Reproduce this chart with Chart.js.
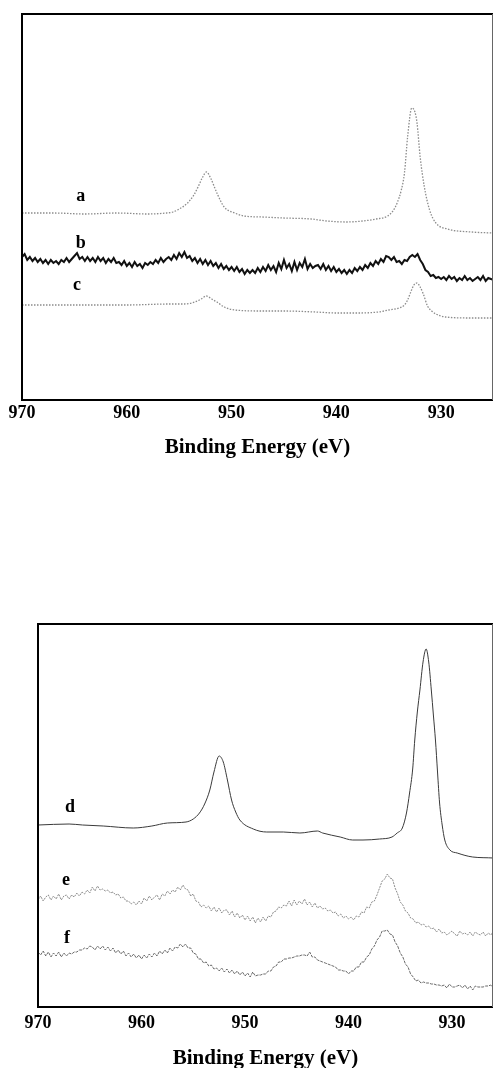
<!DOCTYPE html>
<html>
<head>
<meta charset="utf-8">
<script src="https://cdn.jsdelivr.net/npm/chart.js@4.4.1/dist/chart.umd.min.js"></script>
<style>
  html, body { margin: 0; padding: 0; background: #fff; overflow: hidden; }
  body { width: 494px; height: 1068px; position: relative; }
  canvas { position: absolute; left: 0; }
  #topChart { top: 0; }
  #bottomChart { top: 600px; }
</style>
</head>
<body>
<canvas id="topChart" width="494" height="480"></canvas>
<canvas id="bottomChart" width="494" height="480"></canvas>
<script>
// x axis ticks (eV)
const tickValues = [930, 940, 950, 960, 970];

// sampling grid for the noisy spectra (eV)
const energyGrid = [
  970,969.75,969.5,969.25,969,968.75,968.5,968.25,968,967.75,967.5,967.25,967,966.75,966.5,966.25,966,965.75,965.5,965.25,
  965,964.75,964.5,964.25,964,963.75,963.5,963.25,963,962.75,962.5,962.25,962,961.75,961.5,961.25,961,960.75,960.5,960.25,
  960,959.75,959.5,959.25,959,958.75,958.5,958.25,958,957.75,957.5,957.25,957,956.75,956.5,956.25,956,955.75,955.5,955.25,
  955,954.75,954.5,954.25,954,953.75,953.5,953.25,953,952.75,952.5,952.25,952,951.75,951.5,951.25,951,950.75,950.5,950.25,
  950,949.75,949.5,949.25,949,948.75,948.5,948.25,948,947.75,947.5,947.25,947,946.75,946.5,946.25,946,945.75,945.5,945.25,
  945,944.75,944.5,944.25,944,943.75,943.5,943.25,943,942.75,942.5,942.25,942,941.75,941.5,941.25,941,940.75,940.5,940.25,
  940,939.75,939.5,939.25,939,938.75,938.5,938.25,938,937.75,937.5,937.25,937,936.75,936.5,936.25,936,935.75,935.5,935.25,
  935,934.75,934.5,934.25,934,933.75,933.5,933.25,933,932.75,932.5,932.25,932,931.75,931.5,931.25,931,930.75,930.5,930.25,
  930,929.75,929.5,929.25,929,928.75,928.5,928.25,928,927.75,927.5,927.25,927,926.75,926.5,926.25,926,925.75,925.5,925.25,
  925
];

// --- top panel ---
const aEnergy = [970,967,964,961,958,956.2,955.6,955,954.2,953.6,953.2,952.8,952.4,952,951.4,950.7,949.7,948.8,947.1,945,
  942.4,940.9,939,937.5,936.2,935.1,934.6,934.2,933.8,933.5,933.2,932.8,932.5,932.3,932,931.6,931.1,930.5,929.4,927.1,925];
const aCounts = [187,187,186,187,186,187,188,191,197,205,213,222,228,222,207,193,187,184,183,182,
  181,179,178,179,181,184,189,197,210,227,263,292,288,277,243,213,190,177,171,168,167];

const bCounts = [
  143,146,140,143,139,142,138,141,137,140,136,140,137,
  139,136,140,138,142,138,141,144,147,141,143,139,
  143,139,142,138,143,139,142,137,141,138,142,137,
  138,135,139,134,137,133,138,134,136,132,137,135,
  138,136,140,137,142,138,141,143,
  140,145,141,147,143,148,142,144,
  139,142,137,141,136,140,135,139,
  134,137,132,136,131,134,130,133,
  129,133,128,131,126,130,127,130,
  127,132,128,133,129,135,130,134,
  128,137,131,140,132,136,129,138,
  130,137,133,141,131,136,132,134,
  135,131,136,130,134,129,133,128,
  131,127,130,126,130,127,132,129,
  133,130,135,132,137,134,139,136,
  141,138,144,143,
  140,143,138,139,136,140,139,143,
  145,143,146,140,
  136,130,128,124,
  125,122,123,121,123,120,124,121,
  123,119,122,120,124,120,122,119,121,123,120,124,119,122,121,120
];

const cEnergy = [970,965,960,956,954.5,953.5,952.9,952.4,951.9,951.4,950.7,949.7,947,945,942,940,938,936,935,934,
  933.5,933.2,932.9,932.6,932.3,932,931.7,931.3,930.9,930.5,929.6,927,925];
const cCounts = [95,95,95,96,96,98,101,104,101,98,93,90,89,89,88,87,87,88,90,92,
  95,100,108,115,117,113,106,94,89,86,83,82,82];

// --- bottom panel ---
const dEnergy = [970,967,965.7,963.7,960.8,959,957.5,955.7,955,954.4,953.9,953.4,953,952.5,952.1,951.7,951.3,950.9,950.5,949.2,
  947.9,946.3,944.7,943,942.5,940.8,939.6,938.6,937,935.8,935.3,934.8,934.4,934.1,933.8,933.6,933.35,933.1,932.8,932.5,
  932.25,932,931.8,931.6,931.4,931.2,930.95,930.7,930.2,929.5,928,926,925];
const dCounts = [182,183,182,181,179,181,184,185,188,194,203,217,235,251,245,227,207,195,187,178,
  175,175,174,176,174,170,167,167,168,170,174,179,194,214,238,267,295,317,345,358,
  345,317,292,267,235,204,182,167,157,154,150,149,148];

const eCounts = [
  107,111,106,110,112,107,111,108,113,107,111,112,108,
  112,110,114,111,115,113,117,114,120,116,121,117,
  118,116,117,114,115,112,113,109,110,106,106,103,
  105,102,106,103,109,106,111,107,110,112,107,113,
  111,116,113,117,115,120,117,122,
  118,117,111,113,106,105,100,102,
  99,101,96,100,95,99,94,97,
  97,92,96,90,94,89,92,87,
  91,86,90,84,89,85,90,86,
  91,90,95,96,100,99,102,101,
  106,101,107,102,106,103,108,102,
  105,100,104,99,101,98,99,96,
  97,94,95,91,93,89,91,88,
  90,87,91,90,95,94,100,99,
  105,106,112,119,126,128,133,129,
  128,119,113,105,
  102,96,94,89,88,84,85,82,
  83,80,81,78,
  79,75,78,74,
  75,72,74,76,73,71,76,73,
  74,72,75,71,75,73,72,75,71,74,72,76,72,73,71,75
];

const fCounts = [
  55,52,56,51,55,50,54,51,55,50,54,51,54,
  53,55,55,57,57,59,58,61,60,57,61,58,
  61,57,60,56,59,54,57,53,56,51,54,50,
  53,49,52,48,52,49,53,50,54,51,56,53,
  57,54,59,56,60,59,63,60,
  63,59,59,54,53,48,48,44,
  45,41,42,38,39,36,39,35,
  38,34,37,33,36,32,35,31,
  34,30,35,31,32,32,33,33,
  36,36,40,41,45,45,48,48,
  49,49,50,51,51,52,52,51,
  55,50,50,47,46,45,44,43,
  42,41,40,37,37,36,36,33,
  36,36,40,40,45,45,50,52,
  58,61,67,70,76,76,77,73,
  72,65,61,54,
  50,43,40,33,30,26,27,24,
  25,24,24,23,
  23,22,22,21,
  22,19,23,20,20,21,22,19,
  22,18,21,17,21,20,20,20,21,21,22,19,22,18,22,19
];

// curve letters, placed in data units
const topNames = ['a', 'b', 'c'];
const topNameEnergy = [964.4, 964.4, 964.75];
const topNameLevel = [204, 157, 115];
const bottomNames = ['d', 'e', 'f'];
const bottomNameEnergy = [966.9, 967.3, 967.2];
const bottomNameLevel = [200, 127, 69];

function pairs(energies, values) {
  return energies.map((e, i) => ({ x: e, y: values[i] }));
}

// box round the plot area
const frame = {
  id: 'frame',
  afterDatasetsDraw(chart) {
    const { ctx, chartArea: a } = chart;
    ctx.save();
    ctx.strokeStyle = '#000';
    ctx.lineWidth = 2;
    ctx.beginPath();
    ctx.moveTo(a.right, a.top);
    ctx.lineTo(a.left, a.top);
    ctx.lineTo(a.left, a.bottom);
    ctx.lineTo(a.right, a.bottom);
    ctx.stroke();
    ctx.strokeStyle = '#666';
    ctx.lineWidth = 1;
    ctx.beginPath();
    ctx.moveTo(a.right - 0.5, a.top);
    ctx.lineTo(a.right - 0.5, a.bottom);
    ctx.stroke();
    ctx.restore();
  }
};

const curveNames = {
  id: 'curveNames',
  afterDatasetsDraw(chart, args, opts) {
    const { ctx, scales: { x, y } } = chart;
    ctx.save();
    ctx.font = 'bold 18px "Liberation Serif"';
    ctx.fillStyle = '#000';
    ctx.textAlign = 'center';
    ctx.textBaseline = 'middle';
    opts.names.forEach((n, i) => {
      ctx.fillText(n, x.getPixelForValue(opts.energy[i]), y.getPixelForValue(opts.level[i]));
    });
    ctx.restore();
  }
};

function makeChart(id, datasets, cfg) {
  return new Chart(document.getElementById(id), {
    type: 'line',
    data: { datasets },
    options: {
      responsive: false,
      animation: false,
      layout: { padding: cfg.padding },
      elements: { point: { radius: 0 } },
      plugins: {
        legend: { display: false },
        tooltip: { enabled: false },
        curveNames: cfg.names
      },
      scales: {
        x: {
          type: 'linear',
          reverse: true,
          min: cfg.xMin,
          max: 970,
          afterBuildTicks: s => { s.ticks = tickValues.map(v => ({ value: v })); },
          afterFit: s => { s.height = cfg.axisHeight; },
          grid: { display: false, drawTicks: false },
          border: { display: false },
          ticks: {
            color: '#000',
            padding: cfg.tickPad,
            maxRotation: 0,
            autoSkip: false,
            font: { family: 'Liberation Serif', size: 18, weight: 'bold' }
          },
          title: {
            display: true,
            text: 'Binding Energy (eV)',
            color: '#000',
            font: { family: 'Liberation Serif', size: 21, weight: 'bold' },
            padding: { top: 0, bottom: cfg.titlePad }
          }
        },
        y: { display: false, min: 0, max: cfg.yMax }
      }
    },
    plugins: [frame, curveNames]
  });
}

const dotted = { borderColor: '#8c8c8c', borderWidth: 1.3, borderDash: [1.5, 1.5], cubicInterpolationMode: 'monotone' };

makeChart('topChart', [
  { label: 'a', data: pairs(aEnergy, aCounts), ...dotted },
  { label: 'b', data: pairs(energyGrid, bCounts), borderColor: '#111', borderWidth: 2, tension: 0 },
  { label: 'c', data: pairs(cEnergy, cCounts), ...dotted }
], {
  padding: { top: 14, left: 22, right: 1, bottom: 0 },
  xMin: 925.05, yMax: 386, axisHeight: 80, tickPad: 3, titlePad: 20,
  names: { names: topNames, energy: topNameEnergy, level: topNameLevel }
});

makeChart('bottomChart', [
  { label: 'd', data: pairs(dEnergy, dCounts), borderColor: '#3a3a3a', borderWidth: 1, cubicInterpolationMode: 'monotone' },
  { label: 'e', data: pairs(energyGrid, eCounts), borderColor: '#8c8c8c', borderWidth: 1, borderDash: [2, 1], tension: 0 },
  { label: 'f', data: pairs(energyGrid, fCounts), borderColor: '#6a6a6a', borderWidth: 1, borderDash: [3, 1], tension: 0 }
], {
  padding: { top: 24, left: 38, right: 1, bottom: 0 },
  xMin: 926.04, yMax: 383, axisHeight: 73, tickPad: 6, titlePad: 9,
  names: { names: bottomNames, energy: bottomNameEnergy, level: bottomNameLevel }
});
</script>
</body>
</html>
